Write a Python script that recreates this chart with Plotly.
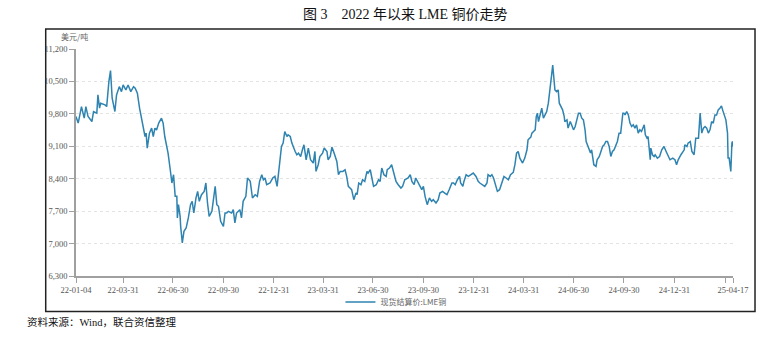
import plotly.graph_objects as go

# ---- data ----
dates_2022 = ["2022-01-04","2022-01-08","2022-01-14","2022-01-19","2022-01-22","2022-01-26","2022-02-02","2022-02-05",
 "2022-02-11","2022-02-13","2022-02-16","2022-02-18","2022-02-26","2022-03-01","2022-03-05","2022-03-08","2022-03-11",
 "2022-03-16","2022-03-19","2022-03-24","2022-03-28","2022-03-31","2022-04-05","2022-04-09","2022-04-14","2022-04-19",
 "2022-04-22","2022-04-26","2022-04-30","2022-05-04","2022-05-07","2022-05-10","2022-05-12","2022-05-14","2022-05-18",
 "2022-05-22","2022-05-25","2022-05-28","2022-05-31","2022-06-04","2022-06-09","2022-06-12","2022-06-15","2022-06-19",
 "2022-06-21","2022-06-25","2022-06-28","2022-07-01","2022-07-04","2022-07-07","2022-07-08","2022-07-10","2022-07-13",
 "2022-07-14","2022-07-17","2022-07-20","2022-07-24","2022-07-28","2022-08-01","2022-08-04","2022-08-07","2022-08-11",
 "2022-08-14","2022-08-17","2022-08-21","2022-08-26","2022-08-29","2022-09-01","2022-09-04","2022-09-09","2022-09-12",
 "2022-09-15","2022-09-18","2022-09-21","2022-09-25","2022-09-30","2022-10-03","2022-10-06","2022-10-09","2022-10-15",
 "2022-10-18","2022-10-21","2022-10-24","2022-10-30","2022-11-02","2022-11-05","2022-11-10","2022-11-13","2022-11-18",
 "2022-11-22","2022-11-27","2022-12-01","2022-12-05","2022-12-09","2022-12-12","2022-12-15","2022-12-18","2022-12-24",
 "2022-12-29"]
cu_2022 = [9742,9600,9957,9707,9957,9742,9634,9850,
 9815,10209,9922,10030,9994,9957,10496,10733,10138,
 9850,10209,10388,10280,10424,10317,10424,10280,10388,
 10353,10245,9922,9670,9492,9311,9384,9061,9384,
 9492,9311,9492,9450,9600,9707,9600,9311,9096,
 8953,8594,8307,8486,8019,8019,7553,7840,7588,
 7372,7014,7265,7337,7553,7840,7912,7660,7984,
 8127,7912,8055,8127,8307,7876,7588,7696,7984,
 8234,7840,7804,7480,7372,7660,7660,7696,7660,
 7732,7445,7660,7732,7553,7912,8019,8415,8342,
 7984,8055,8019,8342,8486,8378,8415,8271,8307,
 8415]

dates_2023 = ["2023-01-02","2023-01-06","2023-01-10","2023-01-14","2023-01-17","2023-01-20","2023-01-24","2023-01-26",
 "2023-01-30","2023-02-02","2023-02-08","2023-02-11","2023-02-14","2023-02-18","2023-02-22","2023-02-24","2023-02-28",
 "2023-03-04","2023-03-08","2023-03-13","2023-03-16","2023-03-18","2023-03-22","2023-03-25","2023-03-30","2023-04-02",
 "2023-04-07","2023-04-09","2023-04-13","2023-04-16","2023-04-20","2023-04-25","2023-04-28","2023-05-01","2023-05-06",
 "2023-05-10","2023-05-13","2023-05-16","2023-05-19","2023-05-22","2023-05-26","2023-05-30","2023-06-01","2023-06-04",
 "2023-06-08","2023-06-11","2023-06-15","2023-06-19","2023-06-21","2023-06-25","2023-06-28","2023-07-01","2023-07-06",
 "2023-07-10","2023-07-13","2023-07-16","2023-07-20","2023-07-24","2023-07-26","2023-07-30","2023-08-03","2023-08-07",
 "2023-08-11","2023-08-15","2023-08-20","2023-08-23","2023-08-27","2023-09-02","2023-09-06","2023-09-09","2023-09-13",
 "2023-09-16","2023-09-21","2023-09-24","2023-09-27","2023-09-30","2023-10-03","2023-10-07","2023-10-11","2023-10-15",
 "2023-10-18","2023-10-23","2023-10-27","2023-10-30","2023-11-04","2023-11-08","2023-11-12","2023-11-16","2023-11-21",
 "2023-11-24","2023-11-27","2023-12-01","2023-12-05","2023-12-07","2023-12-11","2023-12-13","2023-12-17","2023-12-21",
 "2023-12-25","2023-12-30"]
cu_2023 = [8450,8234,8666,9096,9169,9419,9311,9348,
 9311,9169,8988,8917,8953,8880,9061,9132,8809,
 9061,8809,8738,8988,8558,8702,8880,8953,9061,
 8988,8809,8880,9082,8953,8773,8486,8558,8558,
 8594,8450,8234,8199,8163,7947,8091,8055,8307,
 8271,8378,8342,8558,8522,8594,8415,8234,8271,
 8378,8342,8630,8486,8450,8594,8630,8702,8522,
 8342,8271,8199,8234,8378,8415,8486,8342,8271,
 8415,8307,8234,8163,8234,8019,7840,7984,7912,
 7947,7876,7947,8091,8127,8091,8055,8163,8307,
 8307,8271,8378,8450,8307,8234,8342,8486,8450,
 8486,8522]

dates_2024 = ["2024-01-04","2024-01-08","2024-01-11","2024-01-16","2024-01-20","2024-01-24","2024-01-26","2024-01-30",
 "2024-02-02","2024-02-05","2024-02-08","2024-02-12","2024-02-16","2024-02-20","2024-02-24","2024-02-28","2024-03-03",
 "2024-03-07","2024-03-12","2024-03-15","2024-03-18","2024-03-21","2024-03-24","2024-03-29","2024-04-02","2024-04-06",
 "2024-04-08","2024-04-13","2024-04-15","2024-04-18","2024-04-21","2024-04-23","2024-04-25","2024-04-27","2024-04-30",
 "2024-05-03","2024-05-06","2024-05-09","2024-05-12","2024-05-15","2024-05-18","2024-05-21","2024-05-23","2024-05-25",
 "2024-05-27","2024-05-30","2024-06-02","2024-06-04","2024-06-07","2024-06-10","2024-06-13","2024-06-14","2024-06-18",
 "2024-06-20","2024-06-24","2024-06-27","2024-06-30","2024-07-03","2024-07-06","2024-07-09","2024-07-12","2024-07-15",
 "2024-07-18","2024-07-21","2024-07-23","2024-07-25","2024-07-29","2024-07-31","2024-08-02","2024-08-04","2024-08-06",
 "2024-08-10","2024-08-12","2024-08-16","2024-08-19","2024-08-22","2024-08-25","2024-08-28","2024-08-31","2024-09-03",
 "2024-09-06","2024-09-09","2024-09-12","2024-09-15","2024-09-18","2024-09-21","2024-09-24","2024-09-28","2024-09-30",
 "2024-10-02","2024-10-05","2024-10-08","2024-10-11","2024-10-14","2024-10-17","2024-10-20","2024-10-23","2024-10-26",
 "2024-10-29","2024-11-01","2024-11-06","2024-11-08","2024-11-11","2024-11-13","2024-11-17","2024-11-18","2024-11-21",
 "2024-11-24","2024-11-26","2024-11-30","2024-12-04","2024-12-08","2024-12-12","2024-12-16","2024-12-20","2024-12-23",
 "2024-12-28"]
cu_2024 = [8450,8342,8307,8271,8234,8307,8486,8450,
 8486,8415,8307,8127,8163,8307,8450,8415,8378,
 8486,8536,8702,8953,8988,8845,8738,8845,9024,
 9240,9298,9384,9419,9455,9742,9815,9634,9815,
 9922,9707,9778,9850,10030,10280,10640,10855,10604,
 10317,10280,10317,10030,9957,9886,9742,9634,9670,
 9492,9634,9527,9455,9527,9670,9815,9815,9707,
 9670,9455,9204,9132,8988,8953,9024,8809,8702,
 8666,8809,8880,8988,9096,9132,9204,9204,9096,
 8880,8988,9024,9132,9204,9384,9384,9815,9815,
 9778,9850,9778,9600,9527,9564,9492,9564,9384,
 9455,9419,9564,9348,9276,9311,8809,9061,8917,
 8880,8917,8845,8880,9024,9096,8988,8880,8809,
 8845]

dates_2025 = ["2025-01-01","2025-01-04","2025-01-07","2025-01-12","2025-01-15","2025-01-18","2025-01-19","2025-01-23",
 "2025-01-25","2025-01-29","2025-02-01","2025-02-05","2025-02-08","2025-02-13","2025-02-16","2025-02-19","2025-02-22",
 "2025-02-25","2025-02-28","2025-03-03","2025-03-06","2025-03-09","2025-03-12","2025-03-15","2025-03-18","2025-03-21",
 "2025-03-24","2025-03-27","2025-03-29","2025-04-01","2025-04-04","2025-04-07","2025-04-08","2025-04-10","2025-04-13",
 "2025-04-15","2025-04-16","2025-04-17"]
cu_2025 = [8809,8702,8809,8917,8988,9024,9132,9096,
 9169,9204,8988,8917,9276,9276,9815,9384,9492,
 9527,9492,9384,9455,9634,9600,9778,9778,9886,
 9922,9972,9886,9778,9670,9384,8845,8845,8558,
 9169,9204,9096]

tick_dates = ["2022-01-04","2022-03-31","2022-06-30","2022-09-30","2022-12-31","2023-03-31","2023-06-30",
              "2023-09-30","2023-12-31","2024-03-31","2024-06-30","2024-09-30","2024-12-31","2025-04-04","2025-04-17"]
tick_text = ["22-01-04","22-03-31","22-06-30","22-09-30","22-12-31","23-03-31","23-06-30",
             "23-09-30","23-12-31","24-03-31","24-06-30","24-09-30","24-12-31","","25-04-17"]

dates = dates_2022 + dates_2023 + dates_2024 + dates_2025
values = cu_2022 + cu_2023 + cu_2024 + cu_2025

SERIF = "Liberation Serif, Times New Roman, Noto Sans CJK SC, serif"
CJK = "Noto Sans CJK SC, sans-serif"

fig = go.Figure()
fig.add_trace(go.Scatter(
    x=dates, y=values, mode="lines", name="现货结算价:LME铜",
    line=dict(color="#2e83b0", width=1.5),
))

fig.update_layout(
    width=762, height=339,
    margin=dict(l=76, r=29, t=49, b=63),
    paper_bgcolor="white", plot_bgcolor="white",
    showlegend=True,
    legend=dict(orientation="h", x=0.487, y=-0.115, xanchor="center", yanchor="middle",
                font=dict(family=CJK, size=8, color="#666"), itemwidth=30,
                bgcolor="rgba(0,0,0,0)"),
    xaxis=dict(
        type="date", range=["2022-01-04", "2025-04-17"],
        tickmode="array", tickvals=tick_dates, ticktext=tick_text,
        showgrid=False, showline=True, linecolor="#a0a0a0", linewidth=1.5,
        ticks="outside", ticklen=5, tickcolor="#a0a0a0", tickwidth=1,
        tickfont=dict(family=SERIF, size=8.5, color="#555"),
        zeroline=False,
    ),
    yaxis=dict(
        range=[6300, 11200], dtick=700, tick0=6300, tickformat=",d",
        showgrid=True, gridcolor="#e3e3e3", griddash="3px,3px", gridwidth=1,
        showline=True, linecolor="#a0a0a0", linewidth=1.5,
        ticks="outside", ticklen=5, tickcolor="#a0a0a0", tickwidth=1,
        tickfont=dict(family=SERIF, size=8.5, color="#555"),
        zeroline=False,
    ),
    annotations=[
        dict(text="图 3　2022 年以来 LME 铜价走势", xref="paper", yref="paper",
             x=0.502, y=1.15, xanchor="center", yanchor="middle", showarrow=False,
             font=dict(family=SERIF, size=14, color="#111")),
        dict(text="美元/吨", xref="paper", yref="paper", x=-0.003, y=1.053,
             xanchor="center", yanchor="middle", showarrow=False,
             font=dict(family=CJK, size=8, color="#666")),
        dict(text="资料来源：Wind，联合资信整理", xref="paper", yref="paper",
             x=-0.0776, y=-0.2026, xanchor="left", yanchor="middle", showarrow=False,
             font=dict(family=SERIF, size=10.5, color="#111")),
    ],
    shapes=[
        dict(type="rect", xref="paper", yref="paper", x0=-0.0461, x1=1.0335, y0=-0.156, y1=1.088,
             line=dict(color="#222", width=1.5), fillcolor="rgba(0,0,0,0)", layer="below"),
    ],
)

fig.write_html("out.html")
